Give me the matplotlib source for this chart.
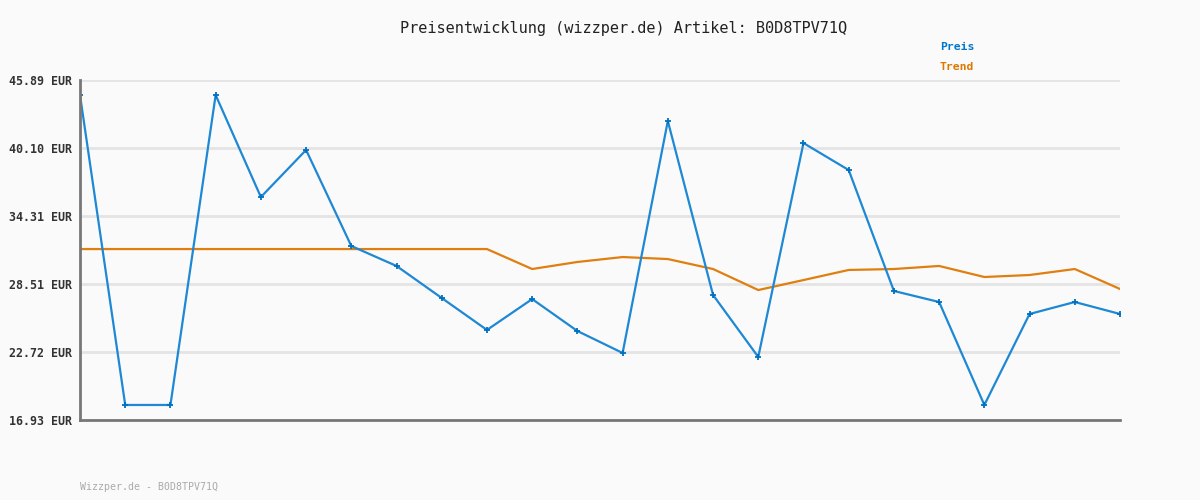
import matplotlib
matplotlib.use("Agg")
import matplotlib.pyplot as plt

title = "Preisentwicklung (wizzper.de) Artikel: B0D8TPV71Q"
footer = "Wizzper.de - B0D8TPV71Q"
y_ticks = [16.93, 22.72, 28.51, 34.31, 40.10, 45.89]

preis = [44.61, 18.21, 18.21, 44.61, 35.92, 39.93, 31.75, 30.05, 27.32, 24.60,
         27.23, 24.51, 22.64, 42.40, 27.58, 22.30, 40.52, 38.22, 27.92, 26.98,
         18.21, 25.96, 26.98, 25.96]
trend = [31.49, 31.49, 31.49, 31.49, 31.49, 31.49, 31.49, 31.49, 31.49, 31.49,
         29.79, 30.39, 30.81, 30.64, 29.79, 28.00, 28.85, 29.71, 29.79, 30.05,
         29.11, 29.28, 29.79, 28.09]
x = list(range(len(preis)))

mono = "DejaVu Sans Mono"
bg = "#fafafa"
fig = plt.figure(figsize=(12, 5), dpi=100, facecolor=bg)
ax = fig.add_axes([80/1200, 0.16, 1040/1200, 0.68], facecolor=bg)

for t in y_ticks:
    ax.axhline(t, color="#e4e4e4", lw=2, zorder=1)

ax.plot(x, trend, color="#e07f10", lw=1.6, zorder=3, solid_joinstyle="round")
ax.plot(x, preis, color="#1e88d4", lw=1.6, zorder=4, marker="+", ms=4.5,
        mew=1.3, mec="#0070c0", solid_joinstyle="round")

ax.set_xlim(0, len(preis) - 1)
ax.set_ylim(y_ticks[0], y_ticks[-1])
ax.set_yticks(y_ticks)
ax.set_yticklabels([f"{t:.2f} EUR" for t in y_ticks], fontfamily=mono,
                   fontweight="bold", fontsize=8.4, color="#333333")
ax.set_xticks([])
ax.tick_params(axis="y", length=0, pad=5.5)
for s in ["top", "right"]:
    ax.spines[s].set_visible(False)
for s in ["left", "bottom"]:
    ax.spines[s].set_color("#777777")
    ax.spines[s].set_linewidth(2)
ax.spines["left"].set_zorder(5)
ax.spines["bottom"].set_zorder(5)

fig.text(624/1200, 1 - 28/500, title, ha="center", va="center",
         fontfamily=mono, fontsize=11, color="#222222")
fig.text(940/1200, 1 - 47/500, "Preis", ha="left", va="center",
         fontfamily=mono, fontsize=8.2, fontweight="bold", color="#0077cc")
fig.text(940/1200, 1 - 67/500, "Trend", ha="left", va="center",
         fontfamily=mono, fontsize=8.2, fontweight="bold", color="#dd7700")
fig.text(80/1200, 1 - 487/500, footer, ha="left", va="center",
         fontfamily=mono, fontsize=7.1, color="#aaaaaa")

fig.savefig("out.png", dpi=100, facecolor=bg)
